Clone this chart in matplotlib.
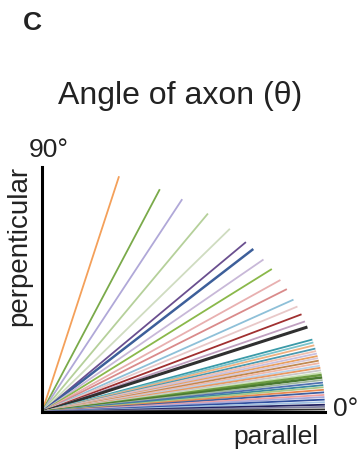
import numpy as np
import matplotlib.pyplot as plt

plt.rcParams['font.family'] = ['Liberation Sans', 'DejaVu Sans']

# axon angles in degrees (0 = parallel, 90 = perpendicular)
angles = [74.2, 65.4, 60.3, 54.1, 48.4, 43.9, 41.7, 38.5, 35.7, 32.6, 30.1,
          27.3, 25.5, 23.5, 21.7, 20.3,
          17.2, 16.5, 15.8, 15.0, 14.4, 13.8, 13.2, 12.7, 12.1, 11.5,
          10.9, 10.4, 9.8, 9.2, 8.7, 8.1, 7.5, 6.9, 6.3, 5.8, 5.2, 4.6, 4.0,
          3.5, 2.9, 2.3, 1.7, 1.2, 0.6]
colors = ['#f4a05a', '#7aaa4a', '#b0a8d8', '#b5d09a', '#cfdcc0', '#6a4f8f',
          '#3d5f9a', '#c8b8d8', '#8ab84a', '#e8b0b0', '#d98a8a', '#8ec0d8',
          '#e8c8c8', '#a03030', '#c0a0c0', '#303030',
          '#3a9aa8', '#7cc4cc', '#f0b080', '#4a9ab0', '#f0c0b0', '#c8c0e0',
          '#e8a060', '#d8c8d8', '#c08850', '#f0b8a8', '#b8d0e8', '#e89860',
          '#c8c8c8', '#c8e0b0', '#6a9a40', '#4a7a30', '#a0b8a0', '#5070b0',
          '#3a8aa0', '#a8c888', '#e88850', '#4060a0', '#f0a0a0', '#a8a8d8',
          '#3050a0', '#a0c0e0', '#202060', '#8080a0', '#303030']
widths = [1.3] * len(angles)
widths[15] = 2.2
widths[6] = 1.8
widths[30] = 1.8
widths[31] = 1.8

fig = plt.figure(figsize=(3.6, 4.52), dpi=100)
ax = fig.add_axes([42 / 360, 39 / 452, 283 / 360, 245 / 452])

for a, c, w in zip(angles, colors, widths):
    t = np.deg2rad(a)
    ax.plot([0, np.cos(t)], [0, np.sin(t)], color=c, lw=w,
            solid_capstyle='butt', clip_on=False)

ax.set_xlim(0, 1)
ax.set_ylim(0, 1)
for s in ['top', 'right']:
    ax.spines[s].set_visible(False)
for s in ['left', 'bottom']:
    ax.spines[s].set_linewidth(2.2)
    ax.spines[s].set_zorder(5)
ax.set_xticks([])
ax.set_yticks([])

txt = '#222222'
fig.text(32 / 360, 1 - 23 / 452, 'C', fontsize=19, fontweight='bold',
         ha='center', va='center', color=txt)
fig.text(180 / 360, 1 - 96 / 452, 'Angle of axon (θ)', fontsize=23,
         ha='center', va='center', color=txt)
fig.text(49 / 360, 1 - 150 / 452, '90°', fontsize=19, ha='center',
         va='center', color=txt)
fig.text(346 / 360, 1 - 409 / 452, '0°', fontsize=19, ha='center',
         va='center', color=txt)
fig.text(19 / 360, 1 - 246 / 452, 'perpenticular', fontsize=20, rotation=90,
         ha='center', va='center', color=txt)
fig.text(276 / 360, 1 - 437 / 452, 'parallel', fontsize=19,
         ha='center', va='center', color=txt)

fig.savefig('out.png', dpi=100)
plt.close()
